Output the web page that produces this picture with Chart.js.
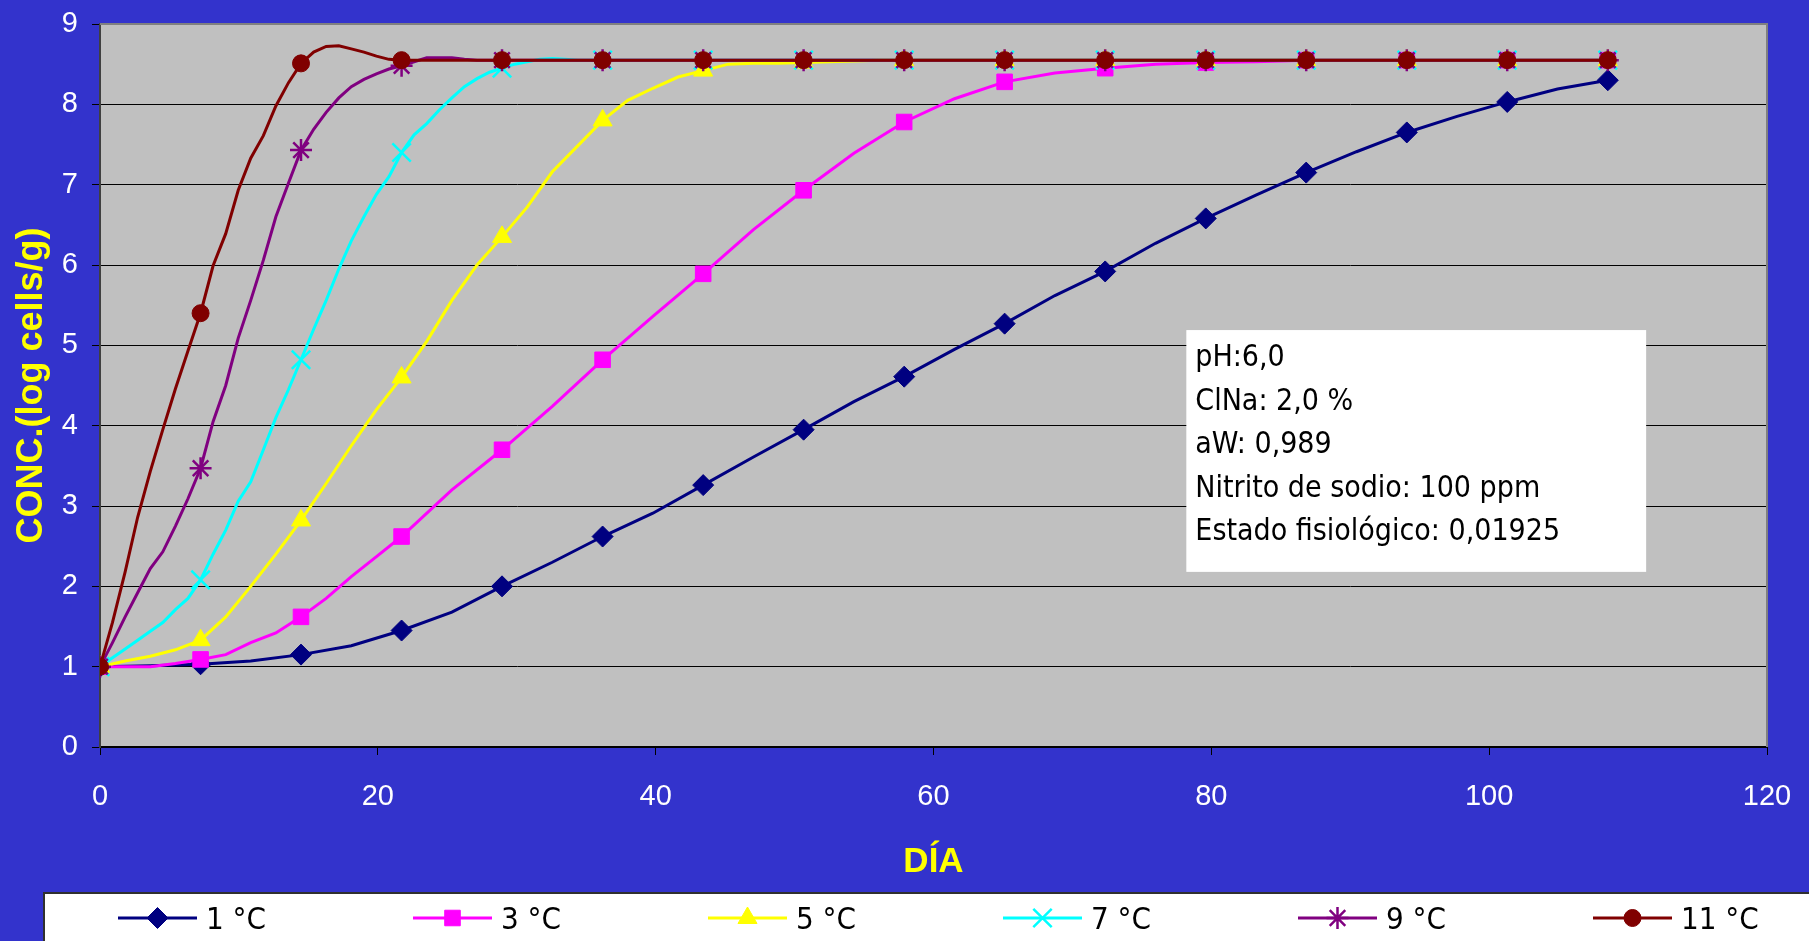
<!DOCTYPE html>
<html>
<head>
<meta charset="utf-8">
<title>Crecimiento a distintas temperaturas</title>
<script src="https://cdn.jsdelivr.net/npm/chart.js@4.4.1/dist/chart.umd.min.js"></script>
<style>
    html, body { margin: 0; padding: 0; background: #3333cc; }
    canvas { display: block; }
</style>
</head>
<body>
<canvas id="growthChart" width="1809" height="941"></canvas>
<script>
// days that carry a marker (every sampling point of the curves below is a model step)
const markerDays = [0, 7.24, 14.47, 21.71, 28.94, 36.18, 43.42, 50.65, 57.89, 65.12, 72.36, 79.6, 86.83, 94.07, 101.3, 108.54];

const temperatures = ["1 °C", "3 °C", "5 °C", "7 °C", "9 °C", "11 °C"];

const xTicks = [0, 20, 40, 60, 80, 100, 120];
const yTicks = [0, 1, 2, 3, 4, 5, 6, 7, 8, 9];

// 1 °C
const days1 = [0, 3.62, 7.24, 10.85, 14.47, 18.09, 21.71, 25.33, 28.94, 32.56, 36.18, 39.8, 43.42, 47.04, 50.65, 54.27,
    57.89, 61.51, 65.12, 68.74, 72.36, 75.98, 79.6, 83.21, 86.83, 90.45, 94.07, 97.69, 101.3, 104.92, 108.54];
const conc1 = [1.0, 1.01, 1.03, 1.07, 1.15, 1.26, 1.45, 1.68, 2.0, 2.3, 2.62, 2.91, 3.26, 3.61, 3.95, 4.3,
    4.61, 4.95, 5.27, 5.62, 5.92, 6.27, 6.58, 6.87, 7.15, 7.41, 7.65, 7.85, 8.03, 8.19, 8.3];

// 3 °C
const days3 = [0, 1.81, 3.62, 5.43, 7.24, 9.05, 10.85, 12.66, 14.47, 16.28, 18.09, 19.9, 21.71,
    25.33, 28.94, 32.56, 36.18, 39.8, 43.42, 47.04, 50.65, 54.27, 57.89, 61.51, 65.12, 68.74, 72.36, 75.98, 79.6, 83.21, 86.83,
    94.07, 101.3, 108.54];
const conc3 = [1.0, 1.0, 1.0, 1.04, 1.09, 1.15, 1.3, 1.42, 1.62, 1.85, 2.12, 2.37, 2.62,
    3.2, 3.7, 4.24, 4.82, 5.36, 5.89, 6.44, 6.93, 7.39, 7.78, 8.07, 8.28, 8.39, 8.45, 8.5, 8.52, 8.53, 8.55,
    8.55, 8.55, 8.55];

// 5 °C
const days5 = [0, 1.81, 3.62, 5.43, 7.24, 9.05, 10.85, 12.66, 14.47, 16.28, 18.09, 19.9, 21.71, 23.52, 25.33, 27.14,
    28.94, 30.75, 32.56, 34.37, 36.18, 37.99, 39.8, 41.61, 43.42, 45.23, 47.04, 48.84, 50.65, 52.46, 54.27, 56.08, 57.89,
    65.12, 72.36, 79.6, 86.83, 94.07, 101.3, 108.54];
const conc5 = [1.0, 1.07, 1.13, 1.21, 1.33, 1.62, 2.0, 2.4, 2.82, 3.28, 3.75, 4.2, 4.6, 5.05, 5.56, 6.0,
    6.35, 6.72, 7.16, 7.48, 7.8, 8.05, 8.2, 8.34, 8.42, 8.5, 8.51, 8.51, 8.52, 8.53, 8.54, 8.55, 8.55,
    8.55, 8.55, 8.55, 8.55, 8.55, 8.55, 8.55];

// 7 °C
const days7 = [0, 0.9, 1.81, 2.71, 3.62, 4.52, 5.43, 6.33, 7.24, 8.14, 9.05, 9.95, 10.85, 11.76, 12.66, 13.57,
    14.47, 15.38, 16.28, 17.19, 18.09, 19.0, 19.9, 20.8, 21.71, 22.61, 23.52, 24.42, 25.33, 26.23, 27.14, 28.04,
    28.94, 29.85, 30.75, 31.66, 32.56, 33.47, 34.37,
    36.18, 43.42, 50.65, 57.89, 65.12, 72.36, 79.6, 86.83, 94.07, 101.3, 108.54];
const conc7 = [1.0, 1.11, 1.22, 1.33, 1.44, 1.55, 1.71, 1.85, 2.08, 2.4, 2.7, 3.06, 3.3, 3.7, 4.1, 4.45,
    4.82, 5.2, 5.56, 5.95, 6.3, 6.6, 6.88, 7.1, 7.4, 7.62, 7.76, 7.93, 8.08, 8.22, 8.32, 8.4,
    8.45, 8.5, 8.53, 8.56, 8.57, 8.56, 8.55,
    8.55, 8.55, 8.55, 8.55, 8.55, 8.55, 8.55, 8.55, 8.55, 8.55, 8.55];

// 9 °C
const days9 = [0, 0.9, 1.81, 2.71, 3.62, 4.52, 5.43, 6.33, 7.24, 8.14, 9.05, 9.95, 10.85, 11.76, 12.66, 13.57,
    14.47, 15.38, 16.28, 17.19, 18.09, 19.0, 19.9, 20.8, 21.71, 22.61, 23.52, 24.42, 25.33, 26.23, 27.14, 28.04, 28.94,
    36.18, 43.42, 50.65, 57.89, 65.12, 72.36, 79.6, 86.83, 94.07, 101.3, 108.54];
const conc9 = [1.0, 1.3, 1.62, 1.92, 2.22, 2.43, 2.75, 3.09, 3.47, 4.05, 4.5, 5.09, 5.56, 6.06, 6.6, 7.02,
    7.43, 7.69, 7.9, 8.08, 8.22, 8.31, 8.38, 8.44, 8.48, 8.53, 8.58, 8.58, 8.58, 8.56, 8.55, 8.55, 8.55,
    8.55, 8.55, 8.55, 8.55, 8.55, 8.55, 8.55, 8.55, 8.55, 8.55, 8.55];

// 11 °C
const days11 = [0, 0.9, 1.81, 2.71, 3.62, 4.52, 5.43, 6.33, 7.24, 8.14, 9.05, 9.95, 10.85, 11.76, 12.66, 13.57,
    14.47, 15.38, 16.28, 17.19, 18.09, 19.0, 19.9, 20.8, 21.71,
    28.94, 36.18, 43.42, 50.65, 57.89, 65.12, 72.36, 79.6, 86.83, 94.07, 101.3, 108.54];
const conc11 = [1.0, 1.55, 2.18, 2.86, 3.43, 3.95, 4.46, 4.93, 5.4, 5.99, 6.39, 6.93, 7.33, 7.61, 7.98, 8.27,
    8.51, 8.65, 8.72, 8.73, 8.69, 8.65, 8.6, 8.56, 8.55,
    8.55, 8.55, 8.55, 8.55, 8.55, 8.55, 8.55, 8.55, 8.55, 8.55, 8.55, 8.55];

// text box with the experimental conditions
const infoLines = ["pH:6,0", "ClNa: 2,0 %", "aW: 0,989", "Nitrito de sodio: 100 ppm", "Estado fisiológico: 0,01925"];

const seriesDays = [days1, days3, days5, days7, days9, days11];
const seriesConc = [conc1, conc3, conc5, conc7, conc9, conc11];
const colors = ["#000080", "#ff00ff", "#ffff00", "#00ffff", "#800080", "#800000"];
const markerStyles = ["rectRot", "rect", "triangle", "crossRot", "star", "circle"];
const markerSizes = [10.5, 11, 11, 13, 11, 8.5];
const strokedMarkers = ["crossRot", "star"];

const SANS = "'Liberation Sans', Arial, sans-serif";
const NARROW = "'DejaVu Sans Condensed', 'DejaVu Sans', sans-serif";

function isMarker(day) {
    return markerDays.some(d => Math.abs(d - day) < 0.05);
}

const datasets = temperatures.map((label, i) => ({
    label: label,
    data: seriesDays[i].map((d, j) => ({ x: d, y: seriesConc[i][j] })),
    borderColor: colors[i],
    backgroundColor: colors[i],
    borderWidth: 3,
    tension: 0,
    pointStyle: markerStyles[i],
    pointRadius: (ctx) => (ctx.raw && isMarker(ctx.raw.x)) ? markerSizes[i] : 0,
    pointHoverRadius: (ctx) => (ctx.raw && isMarker(ctx.raw.x)) ? markerSizes[i] : 0,
    pointBorderWidth: strokedMarkers.includes(markerStyles[i]) ? 2.5 : 1,
    pointBackgroundColor: colors[i],
    pointBorderColor: colors[i],
    // warmest curve on top
    order: temperatures.length - 1 - i
}));

// blue page, grey plot area and its frame
const backgroundPlugin = {
    id: "background",
    beforeDraw(chart) {
        const { ctx, chartArea } = chart;
        ctx.save();
        ctx.fillStyle = "#3333cc";
        ctx.fillRect(0, 0, chart.width, chart.height);
        ctx.fillStyle = "#c0c0c0";
        ctx.fillRect(chartArea.left, chartArea.top, chartArea.right - chartArea.left, chartArea.bottom - chartArea.top);
        ctx.restore();
    },
    beforeDatasetsDraw(chart) {
        const { ctx, chartArea } = chart;
        ctx.save();
        ctx.strokeStyle = "#808080";
        ctx.lineWidth = 2;
        ctx.beginPath();
        ctx.moveTo(chartArea.left, chartArea.top);
        ctx.lineTo(chartArea.right, chartArea.top);
        ctx.lineTo(chartArea.right, chartArea.bottom);
        ctx.stroke();
        ctx.restore();
    }
};

// white box with the conditions, placed in axis units
const infoBoxPlugin = {
    id: "infoBox",
    afterDatasetsDraw(chart) {
        const { ctx, scales } = chart;
        const left = scales.x.getPixelForValue(78.2);
        const right = scales.x.getPixelForValue(111.3);
        const top = scales.y.getPixelForValue(5.19);
        const bottom = scales.y.getPixelForValue(2.18);
        ctx.save();
        ctx.fillStyle = "#ffffff";
        ctx.fillRect(left, top, right - left, bottom - top);
        ctx.fillStyle = "#000000";
        ctx.font = "30px " + NARROW;
        ctx.textBaseline = "alphabetic";
        ctx.textAlign = "left";
        infoLines.forEach((line, k) => {
            ctx.fillText(line, left + 9, top + 36 + k * 43.5);
        });
        ctx.restore();
    }
};

// Excel-like legend: white band at the bottom, line with marker then label
const legendPlugin = {
    id: "bottomLegend",
    afterDraw(chart) {
        const { ctx } = chart;
        const boxLeft = 44, boxTop = 893, pitch = 295, firstX = 118, lineLen = 79, rowY = 918;
        ctx.save();
        ctx.fillStyle = "#ffffff";
        ctx.fillRect(boxLeft, boxTop, chart.width - boxLeft, chart.height - boxTop);
        ctx.strokeStyle = "#303030";
        ctx.lineWidth = 2;
        ctx.beginPath();
        ctx.moveTo(boxLeft, chart.height);
        ctx.lineTo(boxLeft, boxTop);
        ctx.lineTo(chart.width, boxTop);
        ctx.stroke();

        chart.data.datasets.forEach((ds, i) => {
            const x0 = firstX + i * pitch;
            ctx.strokeStyle = ds.borderColor;
            ctx.lineWidth = 3;
            ctx.beginPath();
            ctx.moveTo(x0, rowY);
            ctx.lineTo(x0 + lineLen, rowY);
            ctx.stroke();

            ctx.fillStyle = ds.backgroundColor;
            ctx.lineWidth = strokedMarkers.includes(ds.pointStyle) ? 2.5 : 1;
            Chart.helpers.drawPoint(ctx, {
                pointStyle: ds.pointStyle,
                radius: markerSizes[i],
                rotation: 0,
                borderWidth: ctx.lineWidth
            }, x0 + lineLen / 2, rowY);

            ctx.fillStyle = "#000000";
            ctx.font = "31px " + NARROW;
            ctx.textBaseline = "middle";
            ctx.textAlign = "left";
            ctx.fillText(ds.label, x0 + lineLen + 9, rowY + 3);
        });
        ctx.restore();
    }
};

const growthChart = new Chart(document.getElementById("growthChart"), {
    type: "line",
    data: { datasets: datasets },
    options: {
        responsive: false,
        animation: false,
        layout: { padding: { left: 0, right: 42, top: 24, bottom: 51 } },
        plugins: {
            legend: { display: false },
            tooltip: { enabled: false }
        },
        scales: {
            x: {
                type: "linear",
                min: xTicks[0],
                max: xTicks[xTicks.length - 1],
                afterBuildTicks: (scale) => { scale.ticks = xTicks.map(v => ({ value: v })); },
                afterFit: (scale) => {
                    scale.height = 143;
                    scale.paddingLeft = 0;
                    scale.paddingRight = 0;
                },
                grid: { drawOnChartArea: false, tickLength: 8, color: "#000000", lineWidth: 1 },
                border: { color: "#000000", width: 2 },
                ticks: { color: "#ffffff", font: { family: SANS, size: 29 }, padding: 25, maxRotation: 0 },
                title: {
                    display: true,
                    text: "DÍA",
                    color: "#ffff00",
                    font: { family: SANS, size: 35, weight: "bold" },
                    padding: { top: 0, bottom: 7 }
                }
            },
            y: {
                min: yTicks[0],
                max: yTicks[yTicks.length - 1],
                afterBuildTicks: (scale) => { scale.ticks = yTicks.map(v => ({ value: v })); },
                afterFit: (scale) => {
                    scale.width = 100;
                    // the top and bottom labels may overhang the frame, as in the original
                    scale.paddingTop = 0;
                    scale.paddingBottom = 0;
                },
                grid: { color: "#000000", lineWidth: 1, tickLength: 8 },
                border: { color: "#404040", width: 2 },
                ticks: { color: "#ffffff", font: { family: SANS, size: 29 }, padding: 14 },
                title: {
                    display: true,
                    text: "CONC.(log cells/g)",
                    color: "#ffff00",
                    font: { family: SANS, size: 36, weight: "bold" },
                    padding: { top: 10, bottom: 0 }
                }
            }
        }
    },
    plugins: [backgroundPlugin, infoBoxPlugin, legendPlugin]
});
</script>
</body>
</html>
